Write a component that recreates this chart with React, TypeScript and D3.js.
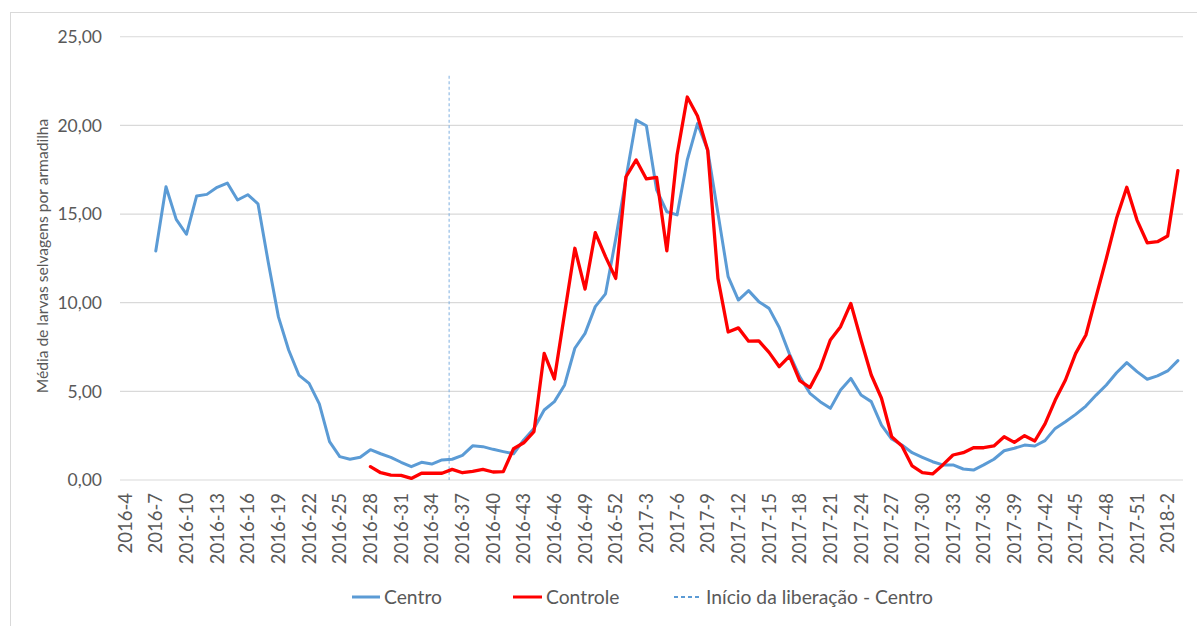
import React from "react";
import * as d3 from "d3";

// week labels: 2016-4 .. 2016-52, 2017-1 .. 2017-52, 2018-1 .. 2018-3
const categories: string[] = [
  ...d3.range(4, 53).map((w) => `2016-${w}`),
  ...d3.range(1, 53).map((w) => `2017-${w}`),
  ...d3.range(1, 4).map((w) => `2018-${w}`),
];

// Centro: first value at 2016-7
const centroStart = 3;
const centro = [
  12.92, 16.54, 14.7, 13.86, 16.02, 16.11, 16.51, 16.75, 15.79, 16.09, 15.58,
  12.3, 9.2, 7.33, 5.92, 5.45, 4.29, 2.16, 1.32, 1.17, 1.28, 1.71, 1.48, 1.28,
  1.0, 0.75, 1.0, 0.9, 1.13, 1.17, 1.39, 1.93, 1.88, 1.73, 1.6, 1.48, 2.26, 2.9,
  3.95, 4.42, 5.36, 7.43, 8.27, 9.78, 10.5, 13.6, 17.0, 20.3, 19.98, 16.36,
  15.13, 14.95, 18.05, 20.1, 18.6, 15.05, 11.47, 10.15, 10.68, 10.06, 9.68, 8.6,
  7.1, 5.83, 4.89, 4.42, 4.04, 5.08, 5.73, 4.79, 4.42, 3.1, 2.31, 1.97, 1.54,
  1.28, 1.03, 0.85, 0.85, 0.62, 0.56, 0.85, 1.17, 1.65, 1.79, 1.97, 1.92, 2.22,
  2.91, 3.29, 3.7, 4.17, 4.79, 5.36, 6.05, 6.62, 6.11, 5.68, 5.87, 6.15, 6.73,
];

// Controle: first value at 2016-28
const controleStart = 24;
const controle = [
  0.75, 0.41, 0.28, 0.26, 0.09, 0.38, 0.38, 0.38, 0.6, 0.41, 0.49, 0.6, 0.45,
  0.47, 1.76, 2.1, 2.73, 7.14, 5.7, 9.4, 13.07, 10.77, 13.95, 12.6, 11.37, 17.1,
  18.05, 16.98, 17.07, 12.93, 18.33, 21.6, 20.53, 18.6, 11.37, 8.35, 8.58, 7.83,
  7.85, 7.2, 6.39, 6.99, 5.6, 5.21, 6.3, 7.9, 8.65, 9.96, 7.9, 5.92, 4.61, 2.44,
  1.92, 0.79, 0.41, 0.34, 0.85, 1.41, 1.54, 1.82, 1.82, 1.92, 2.44, 2.12, 2.5,
  2.2, 3.16, 4.51, 5.64, 7.14, 8.18, 10.34, 12.5, 14.76, 16.51, 14.66, 13.38,
  13.44, 13.76, 17.45,
];

// release start marker (category position) and its top value
const releasePos = 31.7;
const releaseTop = 22.8;

const yTicks = [0, 5, 10, 15, 20, 25];

const fmt = (v: number) => v.toFixed(2).replace(".", ",");
const font = "Lato, 'Open Sans', sans-serif";
const textColor = "#595959";

const App = () => {
  const width = 1197;
  const height = 626;
  const left = 120;
  const right = 1183;
  const bottom = 480;
  const top = 36.75;

  const x = d3.scaleLinear().domain([0, categories.length]).range([left, right]);
  const y = d3.scaleLinear().domain([0, 25]).range([bottom, top]);
  const cx = (i: number) => x(i + 0.5);

  const line = d3
    .line<{ i: number; v: number }>()
    .x((d) => cx(d.i))
    .y((d) => y(d.v));

  const centroPts = centro.map((v, k) => ({ i: centroStart + k, v }));
  const controlePts = controle.map((v, k) => ({ i: controleStart + k, v }));

  const labelIdx = categories.map((_, i) => i).filter((i) => i % 3 === 0);

  return (
    <svg
      width={width}
      height={height}
      style={{ position: "absolute", left: 0, top: 0, background: "#fff" }}
    >
      <rect x={10.5} y={12.5} width={1200} height={700} fill="#fff" stroke="#d9d9d9" />

      {yTicks.map((t) => (
        <g key={t}>
          <line x1={left} x2={right} y1={y(t)} y2={y(t)} stroke="#d9d9d9" strokeWidth={1.2} />
          <text
            x={102}
            y={y(t)}
            dy="0.36em"
            textAnchor="end"
            fontFamily={font}
            fontSize={17.5}
            fill={textColor}
          >
            {fmt(t)}
          </text>
        </g>
      ))}

      {labelIdx.map((i) => (
        <text
          key={i}
          transform={`translate(${cx(i)},493) rotate(-90)`}
          dy="0.36em"
          textAnchor="end"
          fontFamily={font}
          fontSize={18.5}
          fill={textColor}
        >
          {categories[i]}
        </text>
      ))}

      <text
        transform={`translate(42,256) rotate(-90)`}
        dy="0.36em"
        textAnchor="middle"
        fontFamily={font}
        fontSize={15.6}
        fill={textColor}
      >
        Média de larvas selvagens por armadilha
      </text>

      <line
        x1={cx(releasePos)}
        x2={cx(releasePos)}
        y1={y(releaseTop)}
        y2={y(0)}
        stroke="#7fb0e0"
        strokeWidth={1}
        strokeDasharray="3,2.5"
      />

      <path d={line(centroPts) || ""} fill="none" stroke="#5b9bd5" strokeWidth={3} strokeLinejoin="round" strokeLinecap="round" />
      <path d={line(controlePts) || ""} fill="none" stroke="#ff0000" strokeWidth={3.3} strokeLinejoin="round" strokeLinecap="round" />

      <g fontFamily={font} fontSize={19.3} fill={textColor}>
        <line x1={352} x2={380} y1={597} y2={597} stroke="#5b9bd5" strokeWidth={3} />
        <text x={384} y={597} dy="0.36em">Centro</text>
        <line x1={513} x2={542} y1={597} y2={597} stroke="#ff0000" strokeWidth={3} />
        <text x={546} y={597} dy="0.36em">Controle</text>
        <line x1={674} x2={701} y1={597} y2={597} stroke="#5b9bd5" strokeWidth={2} strokeDasharray="4,3" />
        <text x={706} y={597} dy="0.36em">Início da liberação - Centro</text>
      </g>
    </svg>
  );
};

export default App;
